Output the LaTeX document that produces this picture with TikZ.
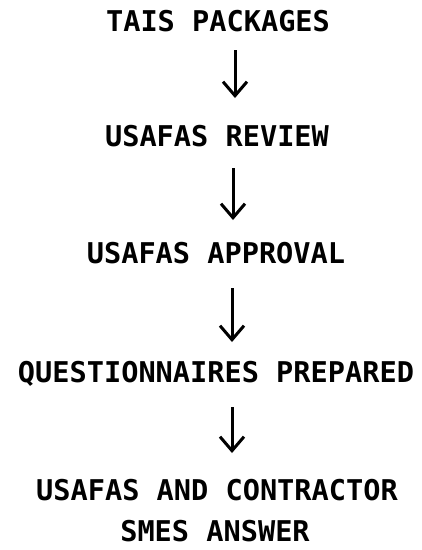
\documentclass[tikz,border=0pt]{standalone}
\usepackage{fontspec}
\setmonofont{DejaVu Sans Mono}
\usetikzlibrary{arrows.meta}
\begin{document}
\begin{tikzpicture}[x=1pt,y=-1pt,
  lbl/.style={font=\ttfamily\bfseries\fontsize{28.6}{29}\selectfont, inner sep=0pt, text height=20.8pt, text depth=0pt, anchor=center},
  arr/.style={line width=3pt, -{Straight Barb[length=14pt,width=24pt,line width=3pt]}}]
\useasboundingbox (0,0) rectangle (422,550);
\node[lbl] (n1) at (218,21) {TAIS PACKAGES};
\node[lbl] (n2) at (217,136) {USAFAS REVIEW};
\node[lbl] (n3) at (216,253) {USAFAS APPROVAL};
\node[lbl] (n4) at (216,372) {QUESTIONNAIRES PREPARED};
\node[lbl] (n5) at (217,490) {USAFAS AND CONTRACTOR};
\node[lbl] (n6) at (215,531) {SMES ANSWER};
\coordinate (a1s) at (235,50);  \coordinate (a1e) at (235,98);
\coordinate (a2s) at (233,168); \coordinate (a2e) at (233,220);
\coordinate (a3s) at (232,288); \coordinate (a3e) at (232,342);
\coordinate (a4s) at (232,407); \coordinate (a4e) at (232,453);
\draw[arr] (a1s) -- (a1e);
\draw[arr] (a2s) -- (a2e);
\draw[arr] (a3s) -- (a3e);
\draw[arr] (a4s) -- (a4e);
\end{tikzpicture}
\end{document}
